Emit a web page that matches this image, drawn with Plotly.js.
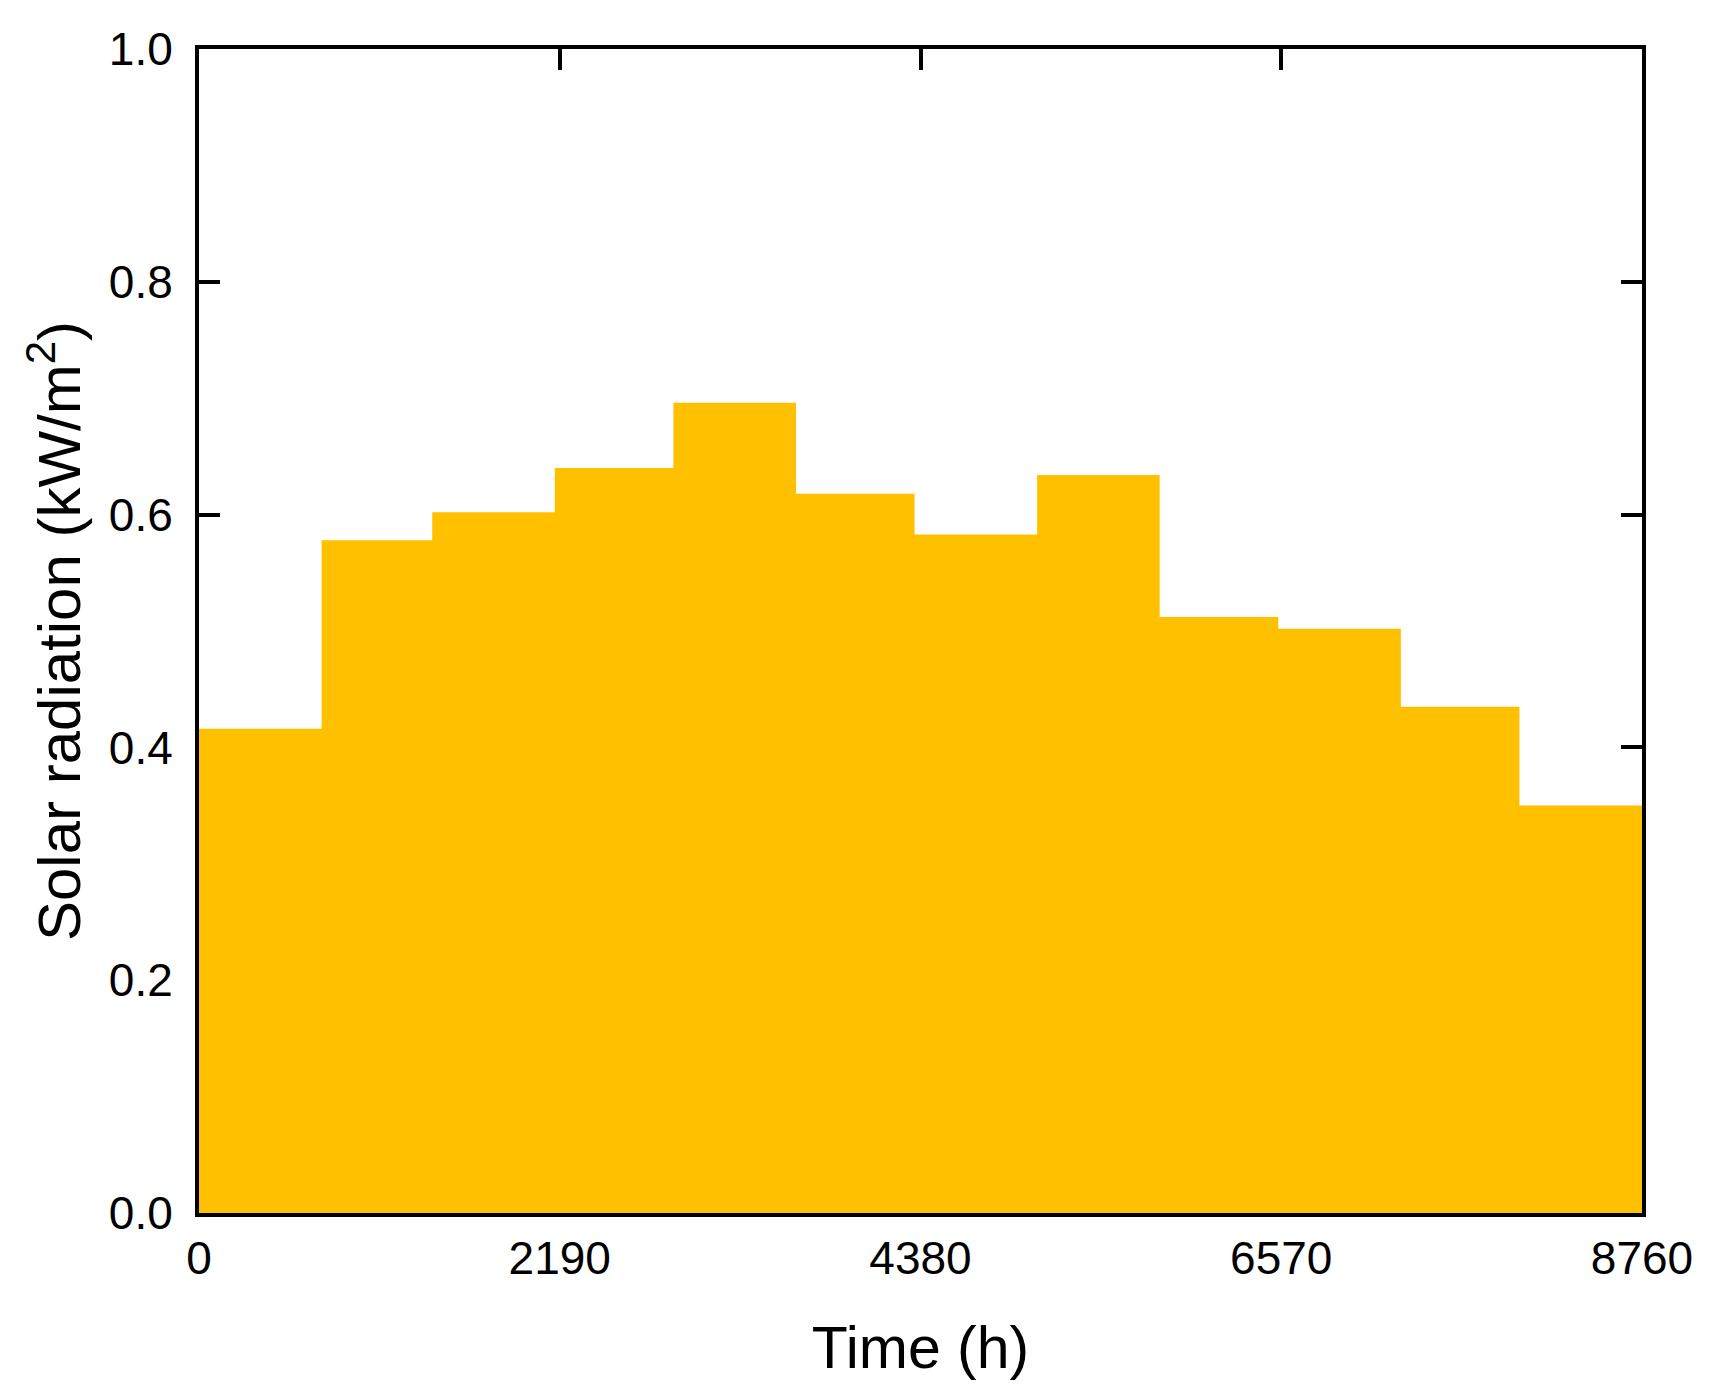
<!DOCTYPE html>
<html>
<head>
<meta charset="utf-8">
<script src="https://cdn.plot.ly/plotly-3.0.1.min.js"></script>
<style>html,body{margin:0;padding:0;background:#fff;}#chart{width:1718px;height:1399px;}</style>
</head>
<body>
<div id="chart"></div>
<script>
// Month boundaries (hours) and monthly solar radiation (kW/m2)
var monthStarts = [0, 744, 1416, 2160, 2880, 3624, 4344, 5088, 5832, 6552, 7296, 8016];
var yearEnd = 8760;
var radiation = [0.416, 0.578, 0.602, 0.640, 0.696, 0.618, 0.583, 0.634, 0.512, 0.502, 0.435, 0.350];
var xTicks = [0, 2190, 4380, 6570, 8760];
var yTicks = [0.0, 0.2, 0.4, 0.6, 0.8, 1.0];

var xs = monthStarts.concat([yearEnd]);
var ys = radiation.concat([radiation[radiation.length - 1]]);

var trace = {
  x: xs, y: ys, type: 'scatter', mode: 'lines',
  line: {shape: 'hv', width: 0, color: '#FFC000'},
  fill: 'tozeroy', fillcolor: '#FFC000', hoverinfo: 'none'
};

var font = {family: 'Arial, "Liberation Sans", sans-serif', color: '#000'};
var layout = {
  width: 1718, height: 1399,
  margin: {l: 199, r: 76, t: 49, b: 186},
  paper_bgcolor: '#fff', plot_bgcolor: '#fff',
  showlegend: false,
  font: font,
  xaxis: {
    range: [0, 8760], tickvals: xTicks, ticktext: xTicks.map(String),
    ticks: 'inside', ticklen: 21, tickwidth: 4, tickcolor: '#000',
    showline: true, linewidth: 4, linecolor: '#000', mirror: 'ticks',
    showgrid: false, zeroline: false, layer: 'below traces',
    ticklabelstandoff: 2,
    tickfont: {family: font.family, size: 46, color: '#000'},
    title: {text: 'Time (h)', font: {family: font.family, size: 59, color: '#000'}, standoff: 44}
  },
  yaxis: {
    range: [0, 1.0], tickvals: yTicks, ticktext: yTicks.map(function(v){return v.toFixed(1);}),
    ticks: 'inside', ticklen: 21, tickwidth: 4, tickcolor: '#000',
    showline: true, linewidth: 4, linecolor: '#000', mirror: 'ticks',
    showgrid: false, zeroline: false, layer: 'below traces',
    ticklabelstandoff: 13,
    tickfont: {family: font.family, size: 46, color: '#000'},
    title: {text: 'Solar radiation (kW/m<sup>2</sup>)', font: {family: font.family, size: 60, color: '#000'}, standoff: 10}
  }
};

Plotly.newPlot('chart', [trace], layout, {displayModeBar: false, staticPlot: true});
</script>
</body>
</html>
